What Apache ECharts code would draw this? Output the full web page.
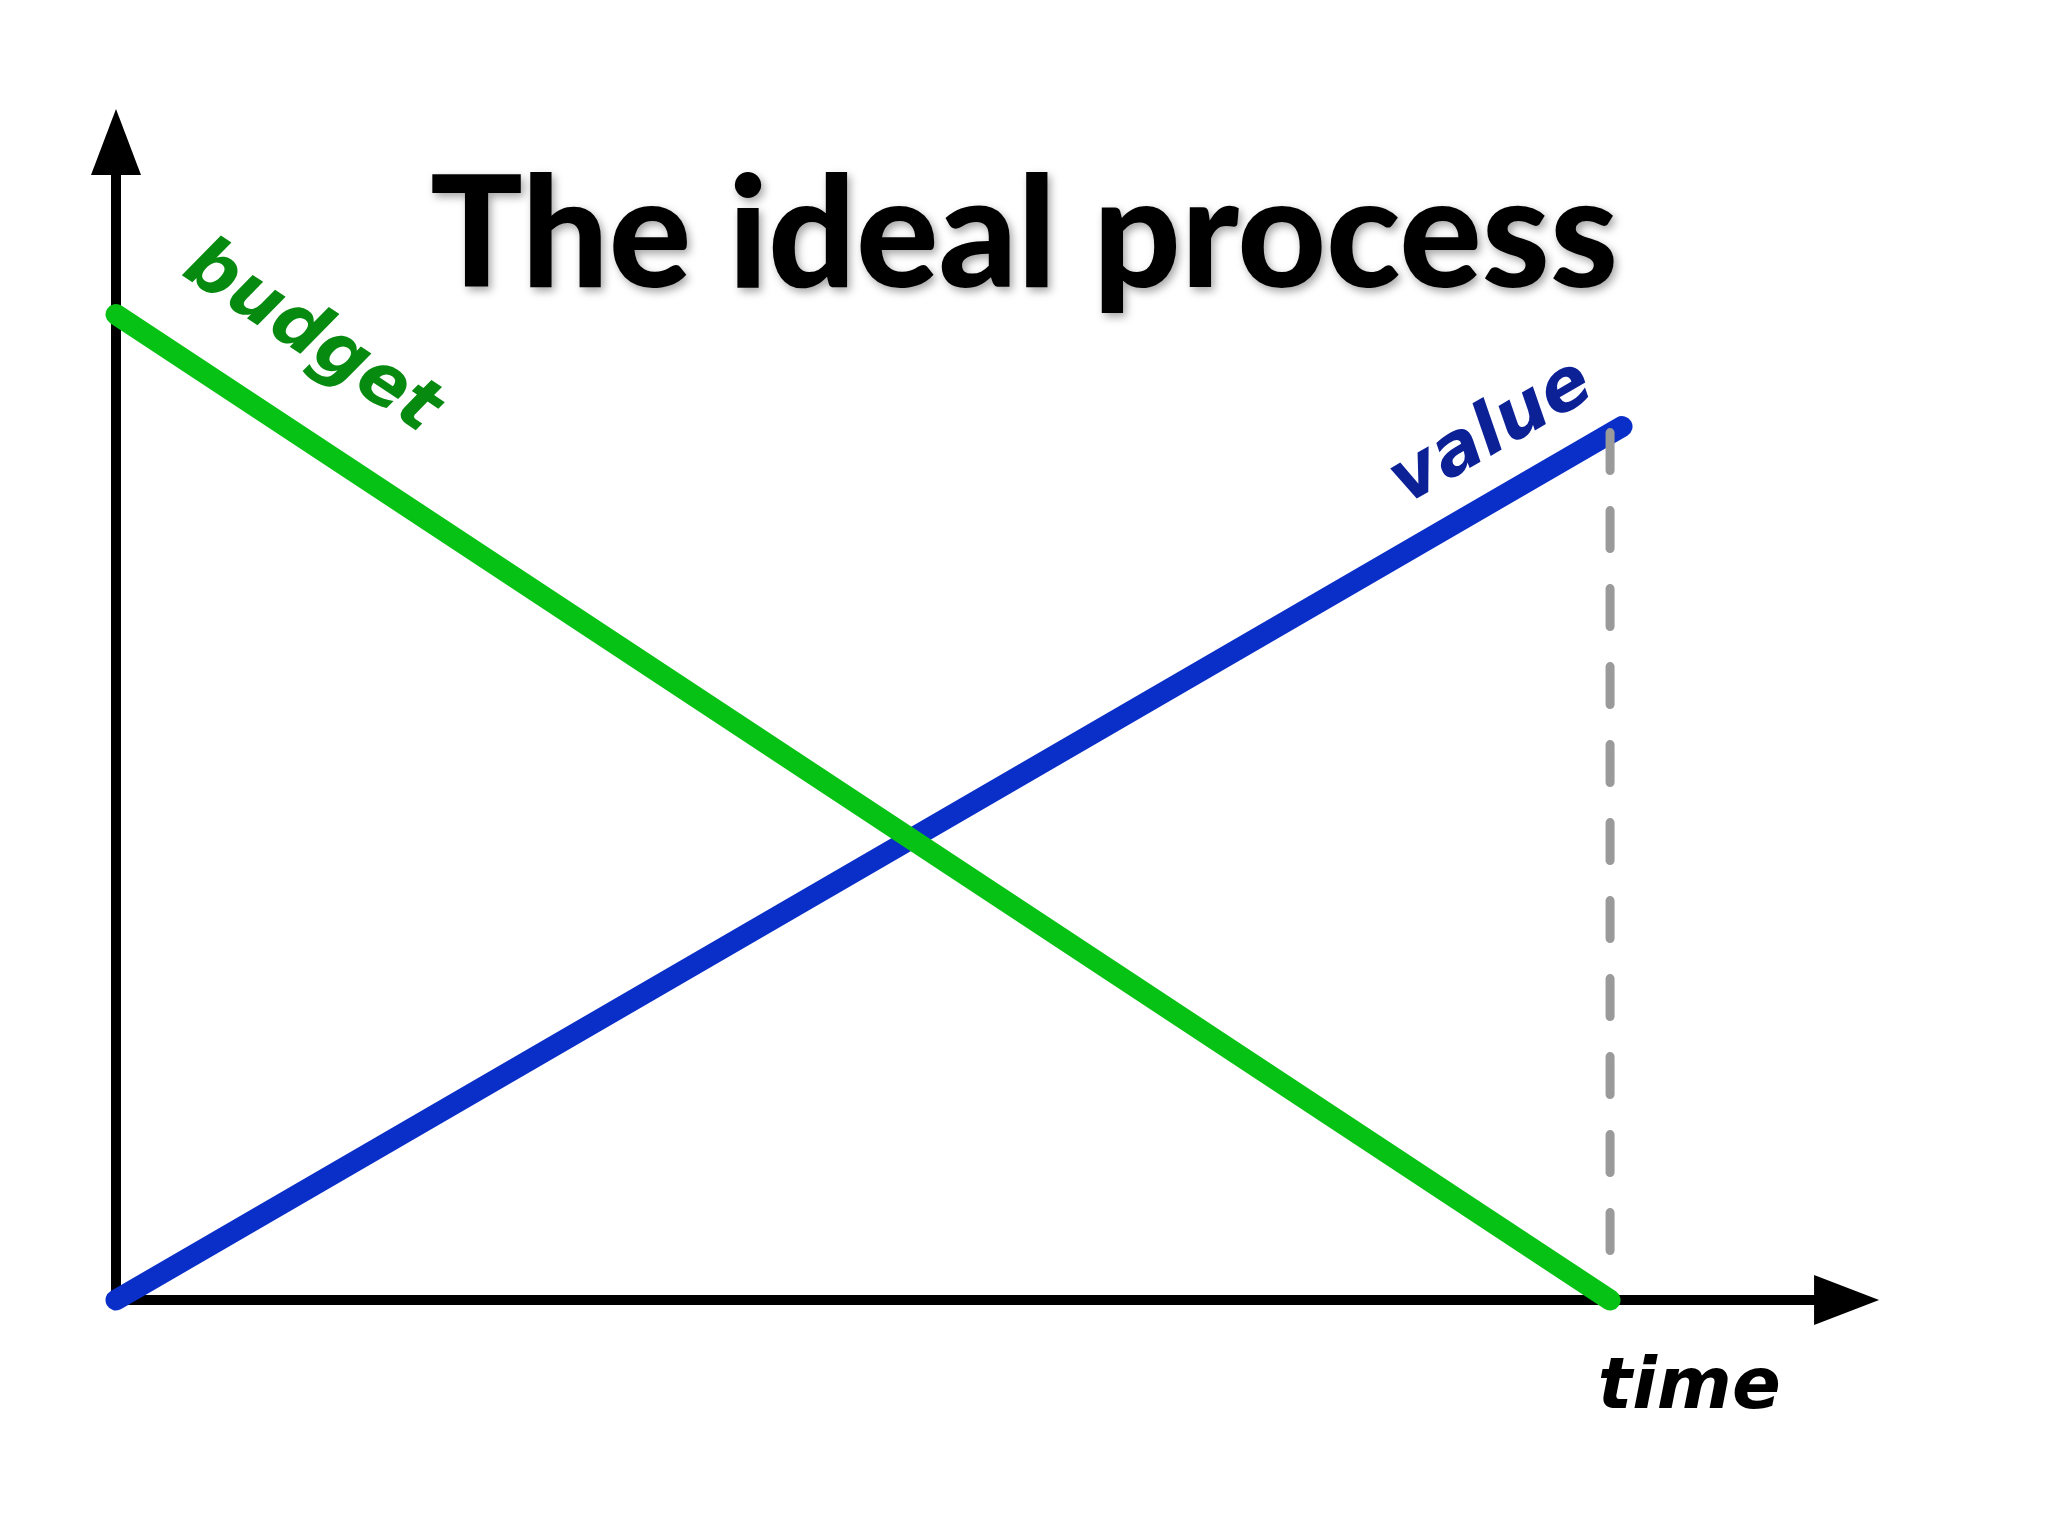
<!DOCTYPE html>
<html>
<head>
<meta charset="utf-8">
<script src="https://cdn.jsdelivr.net/npm/echarts@6/dist/echarts.min.js"></script>
<style>
html,body{margin:0;padding:0;background:#ffffff;}
#chart{width:2048px;height:1536px;}
</style>
</head>
<body>
<div id="chart"></div>
<script>
// ---- data ----
const titleText = 'The ideal process';
const xAxisName = 'time';
const budgetName = 'budget';
const valueName = 'value';
const budgetTime = [0, 100];
const budgetValues = [99.3, 0];
const valueTime = [0, 100.8];
const valueValues = [0, 88];
const deadlineTime = [100, 100];
const deadlineValues = [87.4, 3];
const axisXMax = 118;
const axisYMin = -15;
const axisYMax = 120;

function pairs(xs, ys) { return xs.map((x, i) => [x, ys[i]]); }

const handFont = {fontFamily: 'DejaVu Sans', fontWeight: 'bold', fontStyle: 'italic'};

const chart = echarts.init(document.getElementById('chart'), null, {renderer: 'canvas'});
const option = {
  backgroundColor: '#ffffff',
  animation: false,
  title: {
    text: titleText,
    left: 'center',
    top: 155,
    textStyle: {
      fontFamily: 'Lato',
      fontWeight: 900,
      fontSize: 154,
      lineHeight: 154,
      color: '#000000',
      textShadowColor: 'rgba(0,0,0,0.35)',
      textShadowBlur: 8,
      textShadowOffsetX: 3,
      textShadowOffsetY: 4
    }
  },
  grid: {left: 116, right: 169, top: 109, bottom: 87.1},
  xAxis: {
    type: 'value', min: 0, max: axisXMax,
    axisLine: {show: false}, axisTick: {show: false}, axisLabel: {show: false}, splitLine: {show: false}
  },
  yAxis: {
    type: 'value', min: axisYMin, max: axisYMax,
    axisLine: {show: false}, axisTick: {show: false}, axisLabel: {show: false}, splitLine: {show: false}
  },
  series: [
    {
      name: 'y-axis', type: 'line', clip: false, symbol: 'none', silent: true,
      lineStyle: {color: '#000000', width: 10},
      data: [[0, 0], [0, 113.5]]
    },
    {
      name: 'x-axis', type: 'line', clip: false, symbol: 'none', silent: true,
      lineStyle: {color: '#000000', width: 10},
      data: [[0, 0], [113.8, 0]],
      markPoint: {
        symbol: 'circle', symbolSize: 1, itemStyle: {color: 'rgba(0,0,0,0)'},
        label: Object.assign({show: true, formatter: xAxisName, color: '#000000', fontSize: 72}, handFont),
        data: [{coord: [105.3, -9.0]}]
      }
    },
    {
      name: 'arrows', type: 'scatter', clip: false, silent: true,
      symbol: 'triangle',
      itemStyle: {color: '#000000', opacity: 1},
      data: [
        {value: [0, 116.67], symbolSize: [50, 66], symbolRotate: 0},
        {value: [115.83, 0], symbolSize: [50, 65], symbolRotate: -90}
      ]
    },
    {
      name: valueName, type: 'line', clip: false, symbol: 'none',
      lineStyle: {color: '#0a2fc8', width: 21, cap: 'round'},
      data: pairs(valueTime, valueValues),
      markPoint: {
        symbol: 'circle', symbolSize: 1, itemStyle: {color: 'rgba(0,0,0,0)'},
        label: Object.assign({show: true, formatter: valueName, color: '#0c2196', rotate: 30, fontSize: 72}, handFont),
        data: [{coord: [92.1, 87.3]}]
      }
    },
    {
      name: 'deadline', type: 'line', clip: false, symbol: 'none', silent: true,
      lineStyle: {color: '#9a9a9a', width: 9, type: [38, 40], cap: 'round'},
      data: pairs(deadlineTime, deadlineValues)
    },
    {
      name: budgetName, type: 'line', clip: false, symbol: 'none',
      lineStyle: {color: '#06c214', width: 21, cap: 'round'},
      data: pairs(budgetTime, budgetValues),
      markPoint: {
        symbol: 'circle', symbolSize: 1, itemStyle: {color: 'rgba(0,0,0,0)'},
        label: Object.assign({show: true, formatter: budgetName, color: '#078a10', rotate: -33.5, fontSize: 72}, handFont),
        data: [{coord: [13.05, 96.9]}]
      }
    }
  ]
};
chart.setOption(option);
</script>
</body>
</html>
